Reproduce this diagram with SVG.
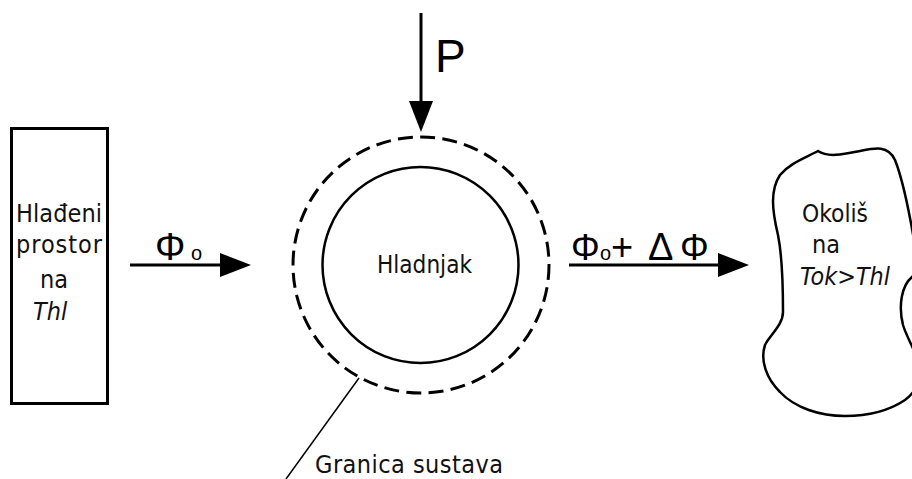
<svg xmlns="http://www.w3.org/2000/svg" width="912" height="479" viewBox="0 0 912 479">
  <style>
    .lbl { font-family: "DejaVu Sans Condensed", "DejaVu Sans", sans-serif; font-size: 25px; fill: #111; }
    .it { font-style: italic; }
    .sym { font-family: "Liberation Sans", Arial, sans-serif; fill: #000; }
    .ln { stroke: #000; fill: none; }
  </style>
  <defs>
    <marker id="ah" markerUnits="userSpaceOnUse" markerWidth="32" markerHeight="26" refX="0" refY="12" orient="auto" viewBox="0 0 32 24">
      <path d="M0,0 L31,12 L0,24 Z" fill="#000"/>
    </marker>
  </defs>

  <g id="hladeni-prostor">
    <rect x="11.5" y="128.5" width="96" height="275" class="ln" stroke-width="3"/>
    <text class="lbl" x="16" y="222" textLength="86" lengthAdjust="spacing">Hlađeni</text>
    <text class="lbl" x="16" y="253" textLength="86" lengthAdjust="spacing">prostor</text>
    <text class="lbl" x="40" y="288">na</text>
    <text class="lbl it" x="33" y="320">Thl</text>
  </g>

  <g id="hladnjak">
    <circle cx="421" cy="265" r="128" class="ln" stroke-width="3" stroke-dasharray="15 7.3"/>
    <circle cx="420.5" cy="265" r="98" class="ln" stroke-width="2.5"/>
    <text class="lbl" x="377" y="273" textLength="95" lengthAdjust="spacingAndGlyphs">Hladnjak</text>
  </g>

  <g id="okolis">
    <path class="ln" stroke-width="2.5" d="M818,151 C828,158 845,154 860,151 C875,148 888,145 895,160 C903,180 908,205 914,240 C918,255 918,270 912,277 C902,285 898,305 903,325 C906,335 912,345 918,360 C922,380 915,393 905,400 C890,410 870,416 845,416 C820,416 795,408 780,392 C766,378 760,360 765,345 C770,335 783,325 783,312 C783,290 783,260 778,235 C772,210 770,190 780,175 C790,163 805,158 818,151 Z"/>
    <text class="lbl" x="802" y="222" textLength="66" lengthAdjust="spacingAndGlyphs">Okoliš</text>
    <text class="lbl" x="812" y="253">na</text>
    <text class="lbl it" x="800" y="285" textLength="90" lengthAdjust="spacingAndGlyphs">Tok&gt;Thl</text>
  </g>

  <g id="granica-sustava">
    <text class="lbl" x="315" y="473" textLength="188" lengthAdjust="spacing">Granica sustava</text>
  </g>

  <g id="connectors">
    <line x1="130" y1="265" x2="220" y2="265" class="ln" stroke-width="3" marker-end="url(#ah)"/>
    <line x1="569" y1="265" x2="718" y2="265" class="ln" stroke-width="3" marker-end="url(#ah)"/>
    <line x1="421" y1="13" x2="421" y2="101" class="ln" stroke-width="3" marker-end="url(#ah)"/>
    <line x1="359" y1="378" x2="286" y2="479" class="ln" stroke-width="1.5"/>
    <text class="sym" y="260"><tspan x="155" font-size="38">Φ</tspan><tspan x="191" font-size="20">o</tspan></text>
    <text class="sym" y="260"><tspan x="571" font-size="36">Φ</tspan><tspan x="600" font-size="20">o</tspan><tspan x="611" font-size="38">+</tspan><tspan x="648" font-size="38">Δ</tspan><tspan x="680" font-size="36">Φ</tspan></text>
    <text class="sym" x="435" y="72" font-size="46">P</text>
  </g>
</svg>
